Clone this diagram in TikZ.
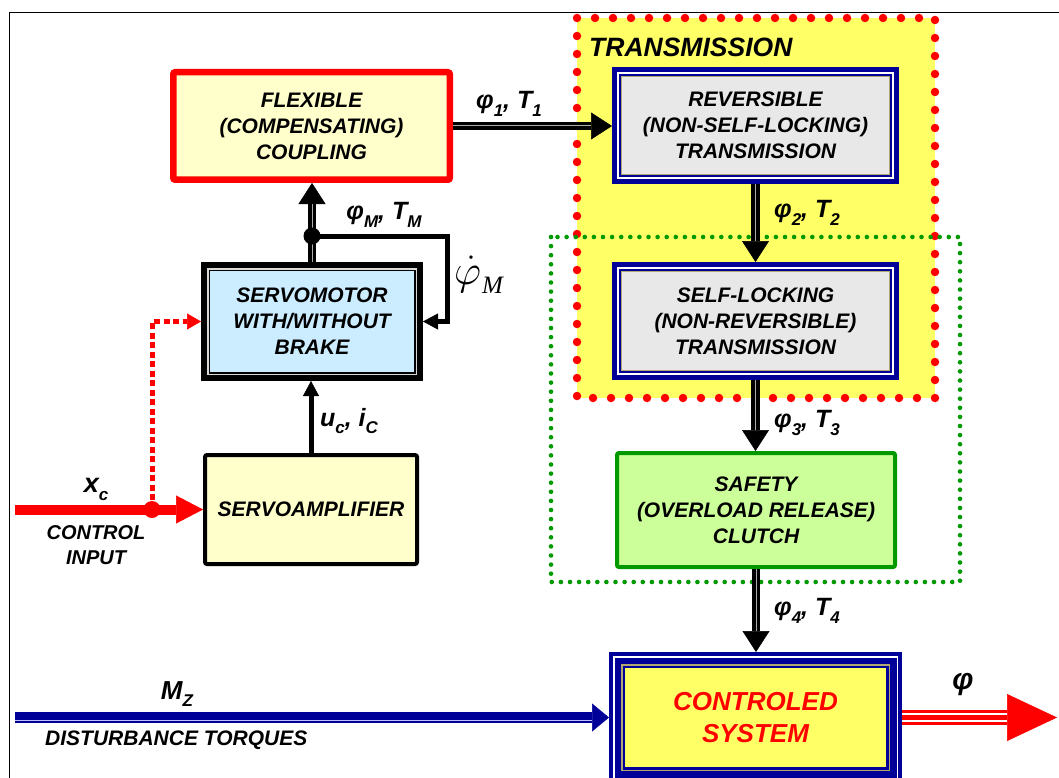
\RequirePackage{fix-cm}
\documentclass[tikz,border=0pt]{standalone}
\usepackage{fontspec}
\setmainfont{Liberation Sans}
\newfontfamily\romanfont{Liberation Serif}
\usetikzlibrary{arrows.meta}

\definecolor{paleyellow}{HTML}{FFFFCC}
\definecolor{paleblue}{HTML}{CCECFF}
\definecolor{palegray}{HTML}{E8E8E8}
\definecolor{brightyellow}{HTML}{FFFF66}
\definecolor{palegreen}{HTML}{CCFF99}
\definecolor{leafgreen}{HTML}{009900}
\definecolor{deepnavy}{HTML}{000099}
\definecolor{goldline}{HTML}{B0A870}
\definecolor{pureRed}{HTML}{FF0000}

% lowered small index used in the signal labels
\newcommand\lsub[1]{\raisebox{-0.3em}{\fontsize{17}{17}\selectfont #1}}
% extra frame line inside a box; #2 = inset from the outer edge
\newcommand\innerframe[3]{\draw[#3] ([shift={(#2,#2)}]#1.north west) rectangle ([shift={(-#2,-#2)}]#1.south east);}

\begin{document}
\begin{tikzpicture}[x=1pt, y=-1pt,
  every node/.style={font=\fontsize{21}{26}\selectfont\bfseries\itshape, inner sep=0pt, align=center},
  sig/.style={font=\fontsize{25}{25}\selectfont\bfseries\itshape},
  shaft/.style={draw=black, line width=8.4pt,
    -{Triangle[length=21pt,width=27pt,line width=0.5pt]},
    postaction={draw=gray!65, line width=1pt, -, shorten >=21pt}},
  link/.style={draw=black, line width=5pt, -{Triangle[length=15pt,width=16pt,line width=0.5pt]}},
  ctrlline/.style={draw=pureRed, line width=5pt, dash pattern=on 6pt off 3.5pt,
    -{Triangle[length=14pt,width=16pt,line width=0.5pt]}},
  inputline/.style={draw=pureRed, line width=10pt, -{Triangle[length=27pt,width=28pt,line width=0.5pt]}},
  navyline/.style={draw=deepnavy, line width=11pt,
    -{Triangle[length=17pt,width=28pt,line width=0.5pt]},
    postaction={draw=white!75!blue, line width=1.3pt, -, shorten >=17pt, transform canvas={yshift=-2.8pt}}},
  outarrow/.style={draw=pureRed, line width=15pt,
    -{Triangle[length=50pt,width=47pt,line width=0.5pt]},
    postaction={draw=white, line width=1.8pt, -, shorten >=50pt, transform canvas={yshift=3.3pt}},
    postaction={draw=white, line width=1.8pt, -, shorten >=50pt, transform canvas={yshift=-3.3pt}}}
]
\useasboundingbox (0,0) rectangle (1059,778);
\clip (0,0) rectangle (1059,778);
\fill[white] (0,0) rectangle (1059,778);

% outer frame
\draw[line width=1.2pt] (9.5,800) -- (9.5,12.5) -- (1080,12.5);

% transmission group
\fill[brightyellow] (577,18) rectangle (935,398);
\draw[pureRed, line width=8.5pt, line cap=round, dash pattern=on 0pt off 18pt] (577,18) rectangle (935,398);
% clutch group
\draw[leafgreen, line width=4.6pt, line cap=round, dash pattern=on 0pt off 9.1pt] (551,237) rectangle (960,582);

% blocks
\node[draw=pureRed, line width=6.5pt, outer sep=3.25pt, fill=paleyellow, rounded corners=2pt,
  minimum width=276.5pt, minimum height=107.5pt] (coup) at (311.5,126) {FLEXIBLE\\(COMPENSATING)\\COUPLING};

\node[draw=black, line width=9pt, outer sep=4.5pt, fill=paleblue,
  minimum width=213pt, minimum height=110pt] (motor) at (312,321.5) {SERVOMOTOR\\WITH/WITHOUT\\BRAKE};
\innerframe{motor}{6.8}{white!85!black, line width=1.4pt}

\node[draw=black, line width=4pt, outer sep=2pt, fill=paleyellow, rounded corners=2pt,
  minimum width=212pt, minimum height=109pt] (amp) at (311,509.5) {SERVOAMPLIFIER};

\node[draw=deepnavy, line width=9pt, outer sep=4.5pt, fill=palegray,
  minimum width=278pt, minimum height=108pt] (rev) at (755.5,125.5) {REVERSIBLE\\(NON-SELF-LOCKING)\\TRANSMISSION};
\innerframe{rev}{6.1}{white, line width=1.5pt}
\innerframe{rev}{9.5}{goldline, line width=0.8pt}

\node[draw=deepnavy, line width=9pt, outer sep=4.5pt, fill=palegray,
  minimum width=278pt, minimum height=109pt] (self) at (755.5,321) {SELF-LOCKING\\(NON-REVERSIBLE)\\TRANSMISSION};
\innerframe{self}{6.1}{white, line width=1.5pt}
\innerframe{self}{9.5}{goldline, line width=0.8pt}

\node[draw=leafgreen, line width=4pt, outer sep=2pt, fill=palegreen, rounded corners=2pt,
  minimum width=278pt, minimum height=114pt] (safe) at (756,510) {SAFETY\\(OVERLOAD RELEASE)\\CLUTCH};

\node[draw=deepnavy, line width=16.3pt, outer sep=8.15pt, fill=brightyellow, text=pureRed,
  font=\fontsize{26}{32}\selectfont\bfseries\itshape,
  minimum width=276.7pt, minimum height=114.7pt] (ctrl) at (755.5,717.5) {CONTROLED\\SYSTEM};
\innerframe{ctrl}{4.75}{white, line width=1.5pt}
\innerframe{ctrl}{12.7}{goldline, line width=1.6pt}

% mechanical power flow
\draw[shaft] (coup.east) -- (coup.east -| rev.west);
\draw[shaft] (motor.north) -- (motor.north |- coup.south);
\draw[shaft] (rev.south) -- (self.north);
\draw[shaft] (self.south) -- (self.south |- safe.north);
\draw[shaft] (safe.south) -- (safe.south |- ctrl.north);

% speed feedback and supply
\coordinate (jM) at ([yshift=26pt]motor.north);
\draw[link, line join=miter] (jM) -| ([xshift=24pt]motor.east) -- (motor.east);
\fill (jM) circle (8.5pt);
\draw[link] (amp.north) -- (amp.north |- motor.south);

% control input
\coordinate (inL) at (15,509.5);
\coordinate (jX) at (152,509.5);
\draw[inputline] (inL) -- (amp.west);
\draw[ctrlline] (jX) |- (motor.west);
\fill[pureRed] (jX) circle (8.5pt);

% disturbance and output
\coordinate (dL) at (15,717.5);
\coordinate (outR) at (1057,717.5);
\draw[navyline] (dL) -- (ctrl.west);
\draw[outarrow] (ctrl.east) -- (outR);

% labels
\node[sig] (l1) at (509,104) {φ\lsub{1}, T\lsub{1}};
\node[sig] (lM) at (384,215) {φ\lsub{M}, T\lsub{M}};
\node[anchor=base west] (ldot) at (454,284)
  {\fontsize{42}{42}\selectfont$\dot{\varphi}$\kern1pt\raisebox{-0.22em}{\fontsize{25}{25}\romanfont\mdseries\itshape M}};
\node[sig] (luc) at (349,421) {u\lsub{c}, i\lsub{C}};
\node[font=\fontsize{27}{27}\selectfont\bfseries\itshape] (lxc) at (96,489) {x\lsub{c}};
\node[font=\fontsize{20}{25}\selectfont\bfseries\itshape] (lin) at (96,545) {CONTROL\\INPUT};
\node[sig] (l2) at (807,213) {φ\lsub{2}, T\lsub{2}};
\node[sig] (l3) at (807,423) {φ\lsub{3}, T\lsub{3}};
\node[sig] (l4) at (807,611) {φ\lsub{4}, T\lsub{4}};
\node[font=\fontsize{26}{26}\selectfont\bfseries\itshape] (lMz) at (177,694) {M\lsub{Z}};
\node[anchor=west, font=\fontsize{21}{21}\selectfont\bfseries\itshape] (ldist) at (45,740) {DISTURBANCE TORQUES};
\node[anchor=west, font=\fontsize{26.5}{26.5}\selectfont\bfseries\itshape] (ltr) at (589,47) {TRANSMISSION};
\node[font=\fontsize{30}{30}\selectfont\bfseries\itshape] (lphi) at (963,685) {φ};
\end{tikzpicture}
\end{document}
